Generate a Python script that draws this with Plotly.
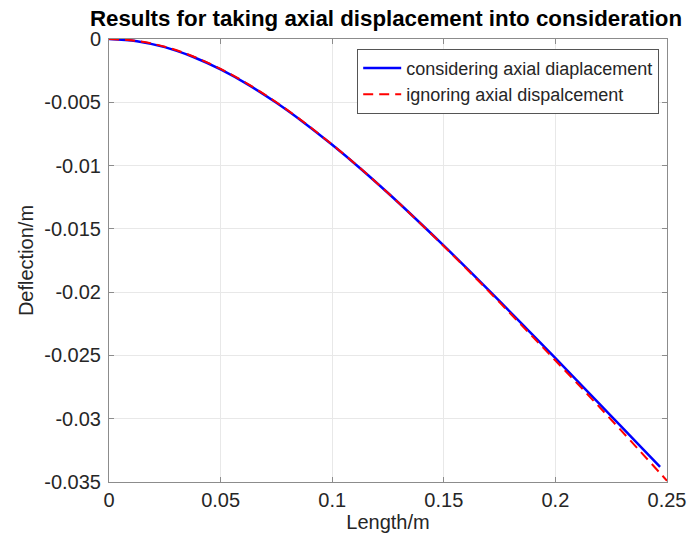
import plotly.graph_objects as go

# Blue: considering axial displacement (x includes axial shortening)
x_axial = [0, 0.0125, 0.025, 0.0375, 0.05, 0.0625, 0.075, 0.0875, 0.1, 0.1125,
           0.125, 0.1375, 0.15, 0.1625, 0.175, 0.1875, 0.2, 0.2125, 0.225, 0.2375, 0.2469]
y_axial = [0, -0.00017, -0.00064, -0.00140, -0.00240, -0.00362, -0.00504, -0.00663,
           -0.00836, -0.01021, -0.01217, -0.01422, -0.01633, -0.01850, -0.02071,
           -0.02296, -0.02522, -0.02750, -0.02979, -0.03208, -0.03380]

# Red: ignoring axial displacement
x_plain = [0, 0.0125, 0.025, 0.0375, 0.05, 0.0625, 0.075, 0.0875, 0.1, 0.1125,
           0.125, 0.1375, 0.15, 0.1625, 0.175, 0.1875, 0.2, 0.2125, 0.225, 0.2375, 0.25]
y_plain = [0, -0.00015, -0.00061, -0.00136, -0.00236, -0.00358, -0.00500, -0.00660,
           -0.00834, -0.01020, -0.01217, -0.01423, -0.01637, -0.01857, -0.02081,
           -0.02310, -0.02540, -0.02772, -0.03008, -0.03248, -0.03490]

x_ticks = [0, 0.05, 0.1, 0.15, 0.2, 0.25]
x_tick_labels = ["0", "0.05", "0.1", "0.15", "0.2", "0.25"]
y_ticks = [0, -0.005, -0.01, -0.015, -0.02, -0.025, -0.03, -0.035]
y_tick_labels = ["0", "-0.005", "-0.01", "-0.015", "-0.02", "-0.025", "-0.03", "-0.035"]

FONT = "Liberation Sans, Arial, Helvetica, sans-serif"

fig = go.Figure()
fig.add_trace(go.Scatter(x=x_axial, y=y_axial, mode="lines",
                         line=dict(color="#0000ff", width=2.5, shape="spline"),
                         name="considering axial diaplacement"))
fig.add_trace(go.Scatter(x=x_plain, y=y_plain, mode="lines",
                         line=dict(color="#ff0000", width=2, dash="10px,6px", shape="spline"),
                         name="ignoring axial dispalcement"))

axis_common = dict(
    showline=True, linecolor="#8c8c8c", linewidth=1, mirror="ticks",
    ticks="inside", ticklen=5, tickcolor="#8c8c8c",
    showgrid=True, gridcolor="#e8e8e8", gridwidth=1, zeroline=False,
    tickfont=dict(family=FONT, size=20, color="#262626"),
    automargin=False,
)

fig.update_layout(
    width=692, height=543,
    margin=dict(l=109, r=25, t=39, b=61),
    paper_bgcolor="white", plot_bgcolor="white",
    title=dict(text="<b>Results for taking axial displacement into consideration</b>",
               font=dict(family=FONT, size=22.3, color="black"),
               x=386 / 692, xref="container", xanchor="center",
               y=1 - 18 / 543, yref="container", yanchor="middle",
               automargin=False),
    xaxis=dict(range=[0, 0.25], tickvals=x_ticks, ticktext=x_tick_labels,
               title=dict(text="Length/m", font=dict(family=FONT, size=20, color="#262626"),
                          standoff=2),
               **axis_common),
    yaxis=dict(range=[-0.035, 0], tickvals=y_ticks, ticktext=y_tick_labels,
               ticklabelstandoff=3,
               title=dict(text="Deflection/m", font=dict(family=FONT, size=20, color="#262626"),
                          standoff=5),
               **axis_common),
    legend=dict(x=0.986, y=0.978, xanchor="right", yanchor="top",
                bgcolor="white", bordercolor="#555555", borderwidth=1,
                font=dict(family=FONT, size=18, color="#262626"),
                tracegroupgap=0, itemwidth=38),
    showlegend=True,
)

fig.write_html("out.html", config={"displayModeBar": False},
               post_script="document.body.style.margin='0';")
